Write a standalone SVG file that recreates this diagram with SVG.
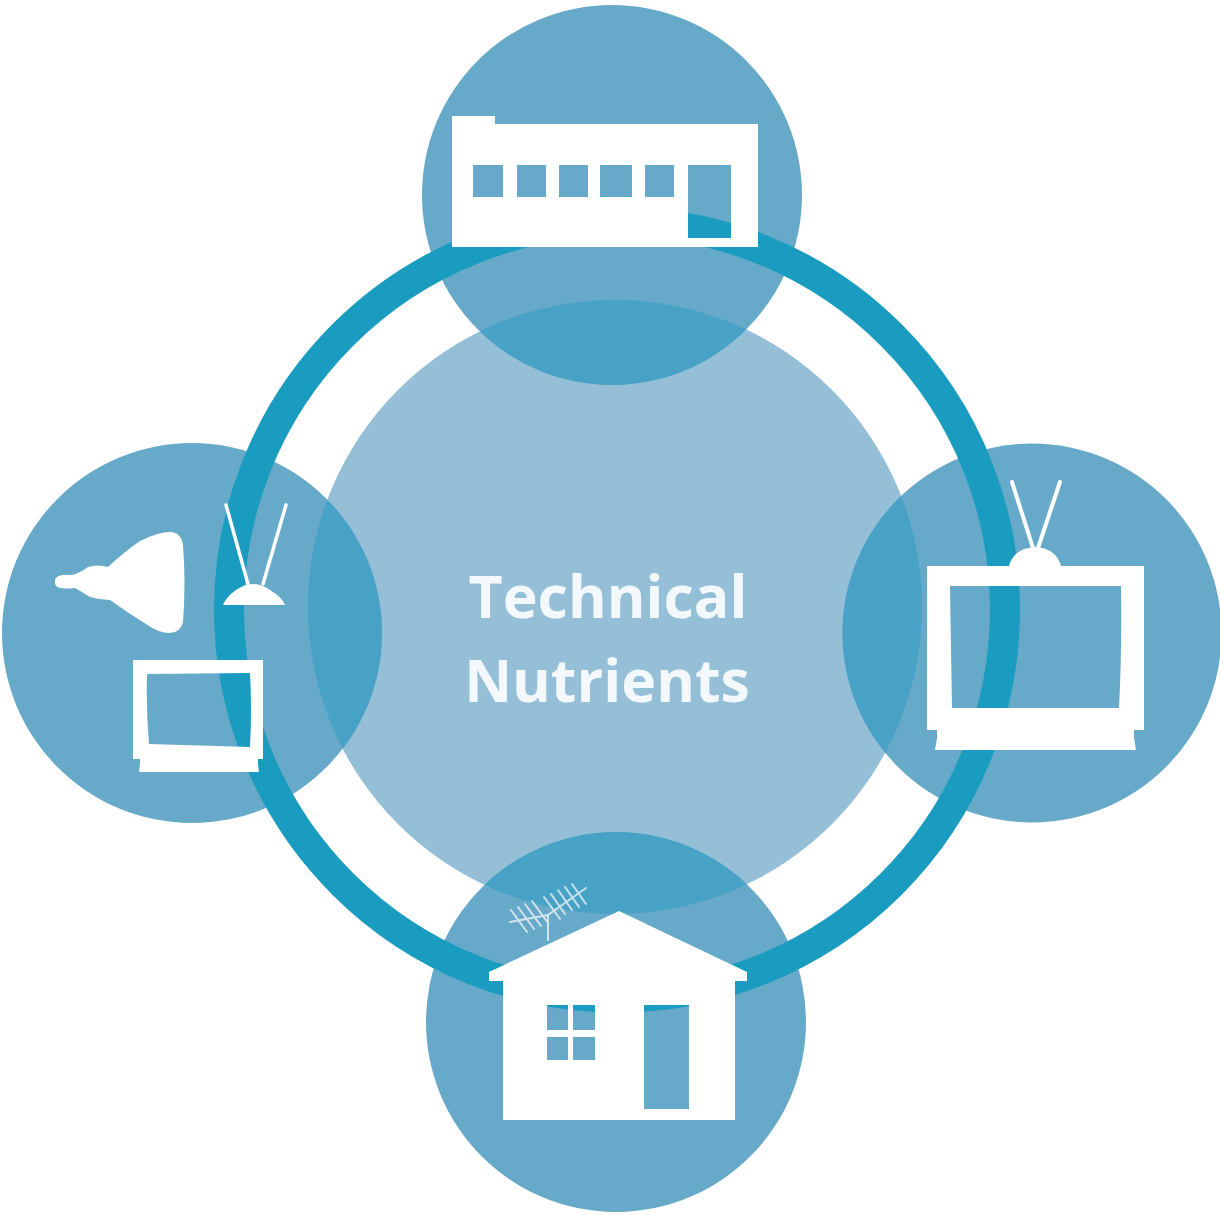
<svg xmlns="http://www.w3.org/2000/svg" width="1220" height="1215" viewBox="0 0 1220 1215">
<style>
.sat{fill:#66a9c8}
.lens{fill:#48a2c6}
.ico{fill:#fff}
.ico-h{fill:#fff;fill-rule:evenodd}
.ant{stroke:#fff;stroke-linecap:round;fill:none}
.lbl{font-family:"Open Sans","Noto Sans",sans-serif;font-weight:700;font-size:59px;fill:#f2f8fb;text-anchor:middle}
</style>
<defs>
<clipPath id="core"><circle cx="615" cy="607" r="307"/></clipPath>
</defs>
<rect width="1220" height="1215" fill="#fff"/>
<g id="center">
<circle cx="615" cy="607" r="307" fill="#95bfd7"/>
</g>
<g id="circles">
<circle class="sat" cx="612" cy="195" r="190"/>
<circle class="sat" cx="192" cy="633" r="190"/>
<circle class="sat" cx="1032" cy="633" r="189.500"/>
<circle class="sat" cx="616" cy="1022" r="190"/>
<g clip-path="url(#core)">
<circle class="lens" cx="612" cy="195" r="190"/>
<circle class="lens" cx="192" cy="633" r="190"/>
<circle class="lens" cx="1032" cy="633" r="189.500"/>
<circle class="lens" cx="616" cy="1022" r="190"/>
</g>
</g>
<g id="connectors">
<circle cx="617" cy="609.500" r="388" fill="none" stroke="#1a9cc0" stroke-width="30"/>
</g>
<g id="node-factory">
<path class="ico-h" d="M452 116H495V124H758V247H452Z M473 165V197H503V165Z M517 165V197H546V165Z M559 165V197H588V165Z M600 165V197H632V165Z M645 165V197H674V165Z M688 165V238H731V165Z"/>
</g>
<g id="node-left">
<path class="ico" d="M55 580Q56 574 72 575Q80 573 88 567Q98 564 108 567Q124 552 140 541Q160 531 172 532Q182 534 183 545Q186 583 183 622Q181 632 170 633Q158 633 146 624Q128 613 110 600Q100 600 90 597Q82 592 75 588Q57 590 55 584Z"/>
<g class="ant" stroke-width="3.500"><path d="M226 505L248 584M286 505L263 584"/></g>
<path class="ico" d="M223 605Q226 597 236 590Q253 578 270 590Q282 597 285 605Z"/>
<path class="ico-h" d="M133 660H263V759H258V764L259 772H139L140 764V759H133Z M147 674Q146 710 149 744L250 747Q252 710 250 673Z"/>
</g>
<g id="node-right">
<g class="ant" stroke-width="4"><path d="M1012 482L1033 548M1060 482L1038 548"/></g>
<path class="ico" d="M1009 566Q1014 548 1035 547Q1056 548 1061 566Z"/>
<path class="ico-h" d="M927 566H1144V730H1134V738L1136 750H935L937 738V730H927Z M950 586Q951 650 952 708H1119Q1122 650 1121 586Z"/>
</g>
<g id="node-house">
<path class="ico-h" d="M619 911L747 972V981H735V1120H503V981H489V972Z M547 1005V1030H568V1005Z M573 1005V1030H595V1005Z M547 1037V1060H568V1037Z M573 1037V1060H595V1037Z M644 1005V1109H689V1005Z"/>
<g class="ant" stroke-width="2" opacity=".7">
<path d="M548 940V915L510 922M548 915L586 888"/>
<path d="M511 910L527 932M518 907L534 929M525 904L541 926M532 901L548 923M544 897L560 919M551 894L565 914M558 890L572 910M565 887L579 907M572 884L586 904"/>
</g>
</g>
<g id="label">
<text class="lbl" x="608" y="618">Technical</text>
<text class="lbl" x="607" y="702">Nutrients</text>
</g>
</svg>
